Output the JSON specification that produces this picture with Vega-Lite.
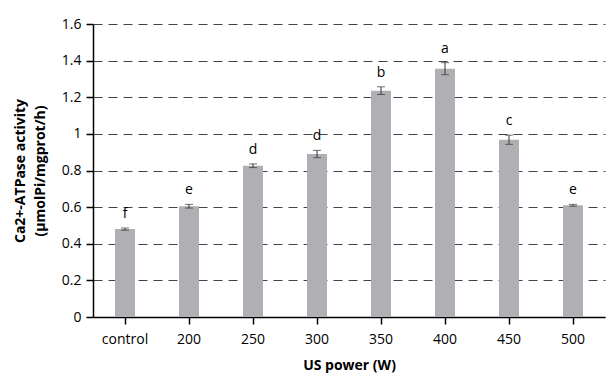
{
  "$schema": "https://vega.github.io/schema/vega-lite/v6.json",
  "width": 512,
  "height": 293,
  "autosize": {"type": "none"},
  "padding": {"left": 93, "top": 24, "right": 2, "bottom": 57},
  "background": "white",
  "config": {
    "view": {"stroke": null},
    "font": "Open Sans",
    "axis": {"labelFont": "Open Sans", "titleFont": "Open Sans"},
    "axisY": {
      "labelOverlap": false,
      "format": ".1~f",
      "titleFontSize": 14,
      "titleFontWeight": "bold",
      "titleColor": "#000",
      "titlePadding": 14,
      "titleLineHeight": 20,
      "labelFontSize": 14,
      "labelColor": "#000",
      "labelPadding": 5,
      "domainColor": "#000",
      "domainWidth": 1.5,
      "tickColor": "#000",
      "tickSize": 7,
      "tickWidth": 1.5,
      "grid": true,
      "gridColor": "#444",
      "gridDash": [9, 6],
      "gridWidth": 1
    }
  },
  "data": {
    "values": [
      {"power": "control", "mean": 0.48, "lo": 0.474, "hi": 0.486, "sig": "f"},
      {"power": "200", "mean": 0.605, "lo": 0.595, "hi": 0.615, "sig": "e"},
      {"power": "250", "mean": 0.826, "lo": 0.816, "hi": 0.836, "sig": "d"},
      {"power": "300", "mean": 0.89, "lo": 0.87, "hi": 0.91, "sig": "d"},
      {"power": "350", "mean": 1.236, "lo": 1.215, "hi": 1.257, "sig": "b"},
      {"power": "400", "mean": 1.356, "lo": 1.323, "hi": 1.389, "sig": "a"},
      {"power": "450", "mean": 0.968, "lo": 0.943, "hi": 0.993, "sig": "c"},
      {"power": "500", "mean": 0.61, "lo": 0.605, "hi": 0.615, "sig": "e"}
    ]
  },
  "encoding": {
    "x": {
      "field": "power",
      "type": "nominal",
      "sort": null,
      "scale": {"paddingInner": 0, "paddingOuter": 0},
      "axis": {
        "title": "US power (W)",
        "titleFontSize": 14,
        "titleFontWeight": "bold",
        "titleColor": "#000",
        "titlePadding": 12,
        "labelAngle": 0,
        "labelFontSize": 14,
        "labelColor": "#000",
        "labelPadding": 8,
        "domainColor": "#000",
        "domainWidth": 1.5,
        "tickColor": "#000",
        "tickSize": 7,
        "tickWidth": 1.5,
        "grid": false
      }
    }
  },
  "layer": [
    {
      "mark": {"type": "bar", "width": 20, "color": "#b0b0b4"},
      "encoding": {
        "y": {
          "field": "mean",
          "type": "quantitative",
          "scale": {"domain": [0, 1.6], "nice": false},
          "axis": {"values": [0, 0.2, 0.4, 0.6, 0.8, 1, 1.2, 1.4, 1.6], "title": ["Ca2+-ATPase activity", "(μmolPi/mgprot/h)"]}
        }
      }
    },
    {
      "mark": {"type": "rule", "color": "#333", "strokeWidth": 1},
      "encoding": {
        "y": {"field": "lo", "type": "quantitative", "axis": {"values": [0, 0.2, 0.4, 0.6, 0.8, 1, 1.2, 1.4, 1.6], "title": ["Ca2+-ATPase activity", "(μmolPi/mgprot/h)"]}},
        "y2": {"field": "hi"}
      }
    },
    {
      "mark": {"type": "tick", "color": "#333", "size": 8, "thickness": 1},
      "encoding": {"y": {"field": "lo", "type": "quantitative", "axis": {"values": [0, 0.2, 0.4, 0.6, 0.8, 1, 1.2, 1.4, 1.6], "title": ["Ca2+-ATPase activity", "(μmolPi/mgprot/h)"]}}}
    },
    {
      "mark": {"type": "tick", "color": "#333", "size": 8, "thickness": 1},
      "encoding": {"y": {"field": "hi", "type": "quantitative", "axis": {"values": [0, 0.2, 0.4, 0.6, 0.8, 1, 1.2, 1.4, 1.6], "title": ["Ca2+-ATPase activity", "(μmolPi/mgprot/h)"]}}}
    },
    {
      "mark": {"type": "text", "fontSize": 14, "color": "#000", "baseline": "alphabetic", "dy": -10},
      "encoding": {
        "y": {"field": "hi", "type": "quantitative", "axis": {"values": [0, 0.2, 0.4, 0.6, 0.8, 1, 1.2, 1.4, 1.6], "title": ["Ca2+-ATPase activity", "(μmolPi/mgprot/h)"]}},
        "text": {"field": "sig"}
      }
    }
  ]
}
